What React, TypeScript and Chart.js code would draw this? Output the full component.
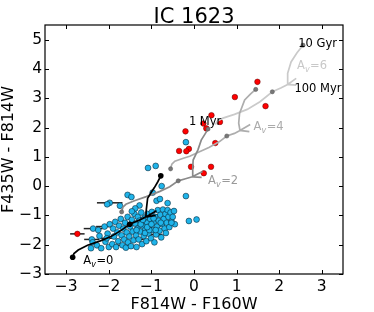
import React, { useEffect, useRef } from "react";
import { Chart, registerables } from "chart.js";
Chart.register(...registerables);

const FAM = '"DejaVu Sans", sans-serif';

const chartTitle = "IC 1623";
const xTitle = "F814W - F160W";
const yTitle = "F435W - F814W";
const xTicks = [-3, -2, -1, 0, 1, 2, 3];
const yTicks = [-3, -2, -1, 0, 1, 2, 3, 4, 5];
const xRange = [-3.5, 3.5];
const yRange = [-3, 5.5];

// cluster colours (x = F814W-F160W, y = F435W-F814W)
const cyanOuter: number[][] = [
  [-1.08, 0.62], [-0.9, 0.69], [-0.19, 1.5], [-0.76, 0.0], [-0.19, -0.34],
  [-1.56, -0.3], [-1.47, -0.37], [-1.98, -0.57], [-2.04, -0.62], [-1.74, -0.67],
  [-1.28, -0.66], [-1.38, -0.76], [-1.46, -0.86], [-0.97, -0.22], [-0.88, -0.5],
  [-0.8, -0.44], [-0.62, -0.58], [-0.12, -1.19], [0.06, -1.14],
];
const cyanCore: number[][] = [
  [-2.42, -2.12], [-2.4, -1.82], [-2.37, -1.45], [-2.38, -1.92],
  [-2.28, -2.02], [-2.22, -1.7], [-2.18, -2.12], [-2.25, -1.5],
  [-2.1, -1.38], [-2.08, -1.9], [-2.03, -1.62], [-2.0, -2.08], [-1.98, -1.3], [-2.05, -1.78],
  [-1.92, -1.98], [-1.9, -1.45], [-1.88, -1.72], [-1.85, -1.22], [-1.83, -2.08],
  [-1.8, -1.58], [-1.78, -1.88], [-1.76, -1.35],
  [-1.72, -1.12], [-1.7, -1.68], [-1.68, -2.02], [-1.66, -1.45], [-1.64, -1.82],
  [-1.62, -1.25], [-1.6, -2.1], [-1.58, -1.58], [-1.56, -1.05], [-1.55, -1.92],
  [-1.52, -1.72], [-1.5, -1.38], [-1.48, -2.05], [-1.46, -1.15], [-1.44, -1.55],
  [-1.42, -1.85], [-1.4, -0.95], [-1.38, -1.28], [-1.36, -1.68], [-1.35, -2.08],
  [-1.33, -1.45], [-1.32, -1.05],
  [-1.3, -1.82], [-1.28, -1.18], [-1.26, -1.55], [-1.24, -0.9], [-1.22, -1.98],
  [-1.2, -1.35], [-1.18, -1.7], [-1.16, -1.08], [-1.14, -1.48], [-1.12, -1.88],
  [-1.1, -1.25], [-1.09, -0.95],
  [-1.07, -1.62], [-1.05, -1.38], [-1.03, -1.12], [-1.01, -1.78], [-0.99, -0.88],
  [-0.97, -1.5], [-0.95, -1.25], [-0.93, -1.92], [-0.91, -1.05], [-0.89, -1.65],
  [-0.87, -1.38], [-0.85, -0.82],
  [-0.83, -1.18], [-0.81, -1.52], [-0.79, -0.98], [-0.77, -1.75], [-0.75, -1.3],
  [-0.73, -0.8], [-0.71, -1.12], [-0.69, -1.45], [-0.67, -0.95], [-0.66, -1.6],
  [-0.64, -1.25], [-0.62, -0.82], [-0.6, -1.05], [-0.58, -1.4], [-0.55, -0.9], [-0.53, -1.2],
  [-0.5, -1.05], [-0.47, -0.85], [-0.45, -1.3], [-0.53, -1.25],
  [-1.15, -1.6], [-1.05, -1.5], [-0.95, -1.1], [-1.25, -1.3], [-1.35, -1.5],
  [-0.9, -1.5], [-1.1, -1.4], [-1.0, -1.3], [-0.78, -1.25], [-1.2, -1.15],
];

const redPoints: number[][] = [
  [1.49, 3.56], [0.96, 3.04], [1.68, 2.73], [0.41, 2.42], [0.61, 2.19],
  [0.22, 2.14], [0.29, 1.97], [-0.2, 1.87], [-0.12, 1.27], [-0.18, 1.19],
  [-0.35, 1.2], [0.5, 1.47], [-0.07, 0.66], [0.4, 0.66], [0.23, 0.44],
  [-2.74, -1.63],
];

// [x, y, half-width] of horizontal error bars
const errorBars: number[][] = [
  [-2.74, -1.63, 0.17], [-1.98, -0.57, 0.3], [-2.37, -1.45, 0.22], [-2.1, -1.38, 0.2],
  [-2.4, -1.82, 0.18], [-0.89, -1.65, 0.15], [-0.64, -1.25, 0.15], [-1.3, -1.82, 0.12],
  [-1.68, -2.02, 0.15], [-2.05, -1.78, 0.15], [-0.79, -0.98, 0.12], [-1.16, -1.08, 0.12],
];

// model tracks (1 Myr -> 10 Gyr) for several extinctions
const trackAv0: number[][] = [
  [-2.85, -2.43], [-2.82, -2.3], [-2.72, -2.18], [-2.5, -2.02], [-2.2, -1.87],
  [-1.95, -1.72], [-1.72, -1.52], [-1.51, -1.3], [-1.3, -1.17], [-1.13, -1.05],
  [-0.88, -0.84], [-1.13, -1.05], [-0.9, -1.0], [-1.13, -1.05], [-1.12, -0.8],
  [-1.09, -0.42], [-1.0, -0.2], [-0.93, -0.05], [-0.85, 0.15], [-0.78, 0.35],
];
const trackAv2: number[][] = [
  [-1.7, -0.88], [-1.67, -0.72], [-1.6, -0.62], [-1.4, -0.5], [-1.12, -0.36],
  [-0.8, -0.18], [-0.57, -0.02], [-0.37, 0.18], [-0.2, 0.25], [-0.04, 0.32],
  [0.2, 0.5], [-0.04, 0.32], [0.18, 0.3], [-0.04, 0.32], [-0.03, 0.6],
  [-0.02, 0.89], [0.09, 1.23], [0.17, 1.57], [0.29, 1.85], [0.33, 1.95],
];
const trackAv4: number[][] = [
  [-0.55, 0.59], [-0.52, 0.75], [-0.45, 0.85], [-0.25, 0.95], [-0.1, 1.02],
  [0.09, 1.15], [0.35, 1.32], [0.6, 1.52], [0.77, 1.71], [0.95, 1.8],
  [1.08, 1.9], [1.32, 2.1], [1.08, 1.9], [1.3, 1.86], [1.08, 1.9],
  [1.05, 2.15], [1.07, 2.48], [1.19, 2.94], [1.33, 3.15], [1.45, 3.3],
];
const trackAv6: number[][] = [
  [0.5, 2.1], [0.55, 2.22], [0.68, 2.32], [0.95, 2.45], [1.25, 2.62],
  [1.55, 2.88], [1.84, 3.22], [2.05, 3.36], [2.2, 3.47], [2.4, 3.68],
  [2.2, 3.47], [2.4, 3.45], [2.2, 3.47], [2.2, 3.85], [2.28, 4.24],
  [2.42, 4.55], [2.56, 4.81],
];
const dotsAv0: number[][] = [[-2.85, -2.43], [-1.51, -1.3], [-0.78, 0.35]];
const dotsGrey: number[][] = [
  [-1.7, -0.88], [-0.37, 0.18], [0.33, 1.95],
  [-0.55, 0.59], [0.77, 1.71], [1.45, 3.3],
  [1.84, 3.22], [2.56, 4.81],
];

const textLabels = [
  { text: "10 Gyr", x: 2.45, y: 4.9, color: "#000" },
  { text: "100 Myr", x: 2.36, y: 3.36, color: "#000" },
  { text: "1 Myr", x: -0.12, y: 2.24, color: "#000" },
];
const avLabels = [
  { rest: "=0", x: -2.6, y: -2.53, color: "#000" },
  { rest: "=2", x: 0.33, y: 0.2, color: "#9a9a9a" },
  { rest: "=4", x: 1.4, y: 2.05, color: "#ababab" },
  { rest: "=6", x: 2.42, y: 4.13, color: "#c8c8c8" },
];

const fmt = (v: number) => (v < 0 ? "\u2212" + Math.abs(v) : String(v));
const pts = (a: number[][]) => a.map(([x, y]) => ({ x, y }));

const decor = {
  id: "decor",
  beforeDatasetsDraw(chart: any) {
    const { ctx, scales } = chart;
    const sx = scales.x, sy = scales.y;
    ctx.save();
    ctx.strokeStyle = "#222";
    ctx.lineWidth = 1.5;
    for (const [ex, ey, ew] of errorBars) {
      const py = sy.getPixelForValue(ey);
      ctx.beginPath();
      ctx.moveTo(sx.getPixelForValue(ex - ew), py);
      ctx.lineTo(sx.getPixelForValue(ex + ew), py);
      ctx.stroke();
    }
    ctx.restore();
  },
  afterDatasetsDraw(chart: any) {
    const { ctx, scales, chartArea } = chart;
    const sx = scales.x, sy = scales.y;
    const { left, right, top, bottom } = chartArea;
    ctx.save();
    ctx.textBaseline = "alphabetic";
    ctx.textAlign = "left";
    for (const l of textLabels) {
      ctx.font = `11.5px ${FAM}`;
      ctx.fillStyle = l.color;
      ctx.fillText(l.text, sx.getPixelForValue(l.x), sy.getPixelForValue(l.y) + 4.2);
    }
    for (const l of avLabels) {
      const px = sx.getPixelForValue(l.x);
      const base = sy.getPixelForValue(l.y) + 4.2;
      ctx.fillStyle = l.color;
      ctx.font = `11.5px ${FAM}`;
      ctx.fillText("A", px, base);
      let w = ctx.measureText("A").width;
      ctx.font = `italic 8px ${FAM}`;
      ctx.fillText("v", px + w, base + 2.5);
      w += ctx.measureText("v").width + 0.5;
      ctx.font = `11.5px ${FAM}`;
      ctx.fillText(l.rest, px + w, base);
    }
    ctx.strokeStyle = "#000";
    ctx.lineWidth = 1.2;
    ctx.strokeRect(left, top, right - left, bottom - top);
    ctx.lineWidth = 1;
    ctx.beginPath();
    for (const v of xTicks) {
      const p = Math.round(sx.getPixelForValue(v)) + 0.5;
      ctx.moveTo(p, bottom); ctx.lineTo(p, bottom - 4);
      ctx.moveTo(p, top); ctx.lineTo(p, top + 4);
    }
    for (const v of yTicks) {
      const p = Math.round(sy.getPixelForValue(v)) + 0.5;
      ctx.moveTo(left, p); ctx.lineTo(left + 4, p);
      ctx.moveTo(right, p); ctx.lineTo(right - 4, p);
    }
    ctx.stroke();
    ctx.fillStyle = "#000";
    ctx.font = `21px ${FAM}`;
    ctx.textAlign = "center";
    ctx.fillText(chartTitle, (left + right) / 2, 23.3);
    ctx.restore();
  },
};

export default function App() {
  const ref = useRef<HTMLCanvasElement | null>(null);
  useEffect(() => {
    if (!ref.current) return;
    const tickFont = { family: FAM, size: 15.5 };
    const titleFont = { family: FAM, size: 16 };
    const cyanStyle = { pointRadius: 2.9, pointBackgroundColor: "#1fb4ea", pointBorderColor: "#0a2a3a", pointBorderWidth: 0.6 };
    const chart = new Chart(ref.current, {
      type: "scatter",
      data: {
        datasets: [
          { data: pts(dotsAv0), pointRadius: 2.8, pointBackgroundColor: "#000", pointBorderColor: "#000", borderWidth: 0, order: 0 },
          { data: pts(dotsGrey), pointRadius: 2.1, pointBackgroundColor: "#777", pointBorderColor: "#555", pointBorderWidth: 0.5, order: 1 },
          { data: pts(trackAv0), showLine: true, borderColor: "#000", borderWidth: 1.7, pointRadius: 0, order: 2 },
          { data: pts(trackAv2), showLine: true, borderColor: "#8a8a8a", borderWidth: 1.7, pointRadius: 0, order: 3 },
          { data: pts(trackAv4), showLine: true, borderColor: "#adadad", borderWidth: 1.7, pointRadius: 0, order: 4 },
          { data: pts(trackAv6), showLine: true, borderColor: "#cacaca", borderWidth: 1.7, pointRadius: 0, order: 5 },
          { data: pts(redPoints), pointRadius: 2.8, pointBackgroundColor: "#ff0000", pointBorderColor: "#5a0000", pointBorderWidth: 0.5, order: 6 },
          { data: pts(cyanOuter), ...cyanStyle, order: 7 },
          { data: pts(cyanCore), ...cyanStyle, order: 8 },
        ] as any,
      },
      options: {
        animation: false,
        responsive: false,
        devicePixelRatio: 1,
        layout: { padding: { top: 25, right: 31, left: 0, bottom: 0 } },
        plugins: { legend: { display: false }, tooltip: { enabled: false }, title: { display: false } },
        scales: {
          x: {
            type: "linear",
            min: xRange[0],
            max: xRange[1],
            afterBuildTicks: (s: any) => { s.ticks = xTicks.map((v) => ({ value: v })); },
            afterFit: (s: any) => { s.height = 38; },
            grid: { display: false, drawTicks: false },
            border: { display: false },
            ticks: { padding: 4, color: "#000", font: tickFont, autoSkip: false, maxRotation: 0, callback: (v: any) => fmt(Number(v)) },
            title: { display: true, text: xTitle, color: "#000", font: titleFont, padding: { top: 0, bottom: -2 } },
          },
          y: {
            type: "linear",
            min: yRange[0],
            max: yRange[1],
            afterBuildTicks: (s: any) => { s.ticks = yTicks.map((v) => ({ value: v })); },
            afterFit: (s: any) => { s.width = 45; },
            grid: { display: false, drawTicks: false },
            border: { display: false },
            ticks: { padding: 3, color: "#000", font: tickFont, autoSkip: false, callback: (v: any) => fmt(Number(v)) },
            title: { display: true, text: yTitle, color: "#000", font: titleFont, padding: { top: -1, bottom: 0 } },
          },
        },
      } as any,
      plugins: [decor],
    });
    return () => chart.destroy();
  }, []);
  return (
    <div style={{ position: "absolute", left: 0, top: 0, width: 374, height: 312 }}>
      <canvas ref={ref} width={374} height={312} style={{ display: "block" }} />
    </div>
  );
}
